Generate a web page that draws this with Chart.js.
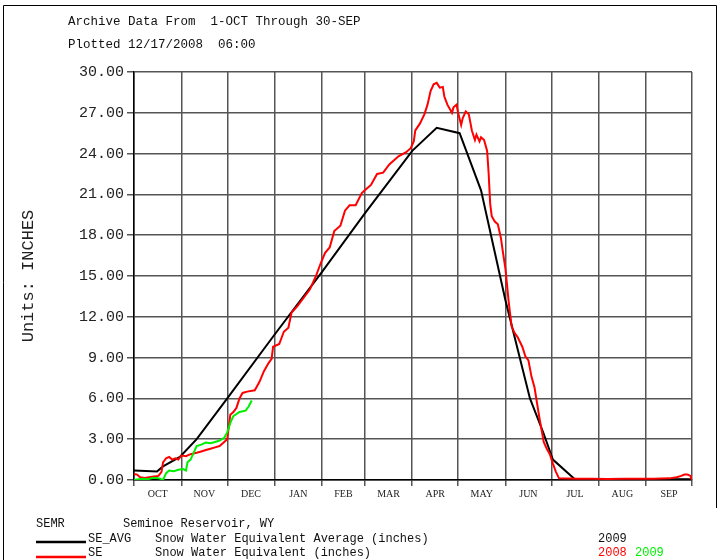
<!DOCTYPE html>
<html>
<head>
<meta charset="utf-8">
<script src="https://cdn.jsdelivr.net/npm/chart.js@4/dist/chart.umd.min.js"></script>
<style>
  html, body { margin: 0; padding: 0; background: #fff; }
  #wrap { width: 720px; height: 560px; }
</style>
</head>
<body>
<div id="wrap"><canvas id="c" width="720" height="560"></canvas></div>
<script>
// day of water year (0 = 1-Oct) -> inches
const monthNames = ['OCT', 'NOV', 'DEC', 'JAN', 'FEB', 'MAR', 'APR', 'MAY', 'JUN', 'JUL', 'AUG', 'SEP'];
const monthStarts = [0, 31, 61, 92, 123, 151, 182, 212, 243, 273, 304, 335, 365];
const yTicks = [0, 3, 6, 9, 12, 15, 18, 21, 24, 27, 30];

const avgDays = [0, 15, 19, 30, 41, 61, 92, 123, 151, 182, 198, 213, 227, 243, 259, 268, 274, 288, 365];
const avgValues = [0.7, 0.62, 1.0, 1.7, 3.0, 6.0, 10.7, 15.3, 19.6, 24.2, 25.9, 25.5, 21.3, 13.2, 6.0, 3.4, 1.5, 0.1, 0.05];

const se2008Days = [0, 2, 4, 7, 10, 13, 16, 18, 19, 21, 23, 25, 27, 29, 31, 34, 37, 41, 44, 47, 50, 53, 56, 59, 61, 62, 63, 65, 67, 69, 71, 74, 79, 82, 85, 88, 90, 91, 95, 98, 101, 103, 107, 111, 115, 119, 122, 125, 128, 131, 135, 138, 141, 145, 149, 151, 155, 159, 163, 167, 173, 178, 181, 183, 184, 187, 190, 192, 194, 196, 198, 200, 202, 203, 205, 208, 209, 211, 212, 214, 215, 217, 219, 221, 223, 224, 226, 227, 229, 231, 232, 233, 234, 236, 238, 240, 241, 243, 245, 247, 249, 251, 254, 256, 258, 260, 262, 265, 268, 270, 272, 274, 276, 278, 290, 300, 310, 320, 330, 340, 350, 355, 358, 360, 362, 364, 365];
const se2008Values = [0.45, 0.4, 0.2, 0.15, 0.2, 0.25, 0.3, 0.6, 1.3, 1.6, 1.7, 1.5, 1.6, 1.5, 1.8, 1.75, 1.9, 2.0, 2.1, 2.2, 2.3, 2.4, 2.5, 2.8, 3.0, 3.9, 4.8, 5.0, 5.3, 6.0, 6.4, 6.5, 6.6, 7.2, 8.0, 8.6, 8.9, 9.8, 10.0, 10.9, 11.2, 12.3, 12.8, 13.4, 14.0, 15.0, 15.9, 16.7, 17.1, 18.3, 18.7, 19.8, 20.2, 20.2, 21.1, 21.3, 21.7, 22.5, 22.6, 23.2, 23.8, 24.1, 24.4, 24.9, 25.7, 26.2, 26.9, 27.6, 28.6, 29.1, 29.2, 28.85, 28.9, 28.2, 27.6, 27.0, 27.4, 27.6, 27.0, 26.1, 26.6, 27.1, 26.9, 25.7, 25.0, 25.4, 24.9, 25.2, 25.0, 24.2, 22.5, 20.3, 19.4, 19.0, 18.8, 17.8, 17.0, 15.5, 13.2, 11.3, 10.8, 10.5, 9.8, 9.1, 8.8, 7.6, 6.8, 4.7, 2.8, 2.3, 1.9, 1.2, 0.6, 0.12, 0.1, 0.1, 0.08, 0.1, 0.1, 0.1, 0.12, 0.2, 0.3, 0.4, 0.4, 0.3, 0.0];

const se2009Days = [0, 3, 6, 9, 12, 15, 17, 19, 21, 23, 26, 29, 32, 34, 35, 37, 39, 41, 44, 47, 50, 53, 56, 59, 61, 63, 65, 69, 73, 75, 77];
const se2009Values = [0.0, 0.05, 0.1, 0.05, 0.15, 0.15, 0.1, 0.0, 0.5, 0.7, 0.65, 0.75, 0.8, 0.7, 1.3, 1.5, 2.0, 2.5, 2.6, 2.75, 2.7, 2.8, 2.9, 3.1, 3.5, 4.2, 4.7, 5.0, 5.1, 5.4, 5.85];

const pts = (xs, ys) => xs.map((x, i) => ({ x: x, y: ys[i] }));

// month label positions (mid month) mixed with month boundaries
const midMonths = monthStarts.slice(0, 12).map((s, i) => (s + monthStarts[i + 1]) / 2);
const xTickValues = monthStarts.concat(midMonths).sort((a, b) => a - b);

const MONO = '"Liberation Mono", "DejaVu Sans Mono", monospace';
const GREEN = '#00ee00';

const annotations = {
    id: 'annotations',
    afterDraw(chart) {
        const ctx = chart.ctx;
        ctx.save();
        // frame
        ctx.strokeStyle = '#000';
        ctx.lineWidth = 1;
        ctx.beginPath();
        ctx.moveTo(3.5, 560);
        ctx.lineTo(3.5, 5.5);
        ctx.lineTo(716.5, 5.5);
        ctx.lineTo(716.5, 508);
        ctx.stroke();

        ctx.fillStyle = '#111';
        ctx.textBaseline = 'middle';
        ctx.font = '12.5px ' + MONO;
        ctx.fillText('Archive Data From  1-OCT Through 30-SEP', 68, 22);
        ctx.fillText('Plotted 12/17/2008  06:00', 68, 45);

        ctx.font = '12px ' + MONO;
        ctx.fillText('SEMR', 36, 524);
        ctx.fillText('Seminoe Reservoir, WY', 123, 524);
        ctx.fillText('SE_AVG', 88, 539);
        ctx.fillText('Snow Water Equivalent Average (inches)', 155, 539);
        ctx.fillText('2009', 598, 539);
        ctx.fillText('SE', 88, 553);
        ctx.fillText('Snow Water Equivalent (inches)', 155, 553);
        ctx.fillStyle = '#ff0000';
        ctx.fillText('2008', 598, 553);
        ctx.fillStyle = GREEN;
        ctx.fillText('2009', 635, 553);

        ctx.lineWidth = 2.5;
        ctx.strokeStyle = '#000';
        ctx.beginPath(); ctx.moveTo(36, 542); ctx.lineTo(86, 542); ctx.stroke();
        ctx.strokeStyle = '#ff0000';
        ctx.beginPath(); ctx.moveTo(36, 557); ctx.lineTo(86, 557); ctx.stroke();
        ctx.restore();
    }
};

new Chart(document.getElementById('c'), {
    type: 'line',
    data: {
        datasets: [
            { label: 'SE 2009', data: pts(se2009Days, se2009Values), borderColor: GREEN, borderWidth: 2, pointRadius: 0, tension: 0 },
            { label: 'SE 2008', data: pts(se2008Days, se2008Values), borderColor: '#ff0000', borderWidth: 2, pointRadius: 0, tension: 0 },
            { label: 'SE_AVG', data: pts(avgDays, avgValues), borderColor: '#000000', borderWidth: 2, pointRadius: 0, tension: 0 }
        ]
    },
    options: {
        responsive: false,
        animation: false,
        events: [],
        layout: { padding: { top: 72, right: 28, left: 0, bottom: 0 } },
        plugins: { legend: { display: false }, tooltip: { enabled: false } },
        scales: {
            x: {
                type: 'linear',
                min: 0,
                max: 365,
                afterBuildTicks: (axis) => { axis.ticks = xTickValues.map(v => ({ value: v })); },
                afterFit: (axis) => { axis.height = 80; },
                ticks: {
                    autoSkip: false,
                    maxRotation: 0,
                    padding: 2,
                    color: '#222',
                    font: { family: '"Liberation Serif", serif', size: 10 },
                    callback: (v) => {
                        const i = midMonths.indexOf(v);
                        return i >= 0 ? monthNames[i] : '';
                    }
                },
                grid: {
                    color: (c) => monthStarts.includes(c.tick && c.tick.value) ? '#555' : 'rgba(0,0,0,0)',
                    lineWidth: 1.5,
                    tickLength: 6
                },
                border: { color: '#000', width: 1.5 }
            },
            y: {
                min: 0,
                max: 30,
                afterBuildTicks: (axis) => { axis.ticks = yTicks.map(v => ({ value: v })); },
                afterFit: (axis) => { axis.width = 134; },
                ticks: {
                    padding: 3,
                    color: '#222',
                    font: { family: MONO, size: 15 },
                    callback: (v) => v.toFixed(2)
                },
                grid: { color: '#555', lineWidth: 1.5, tickLength: 7 },
                border: { color: '#000', width: 1.5 },
                title: {
                    display: true,
                    text: 'Units: INCHES',
                    color: '#222',
                    font: { family: MONO, size: 17 },
                    padding: { top: 18, bottom: 0 }
                }
            }
        }
    },
    plugins: [annotations]
});
</script>
</body>
</html>
